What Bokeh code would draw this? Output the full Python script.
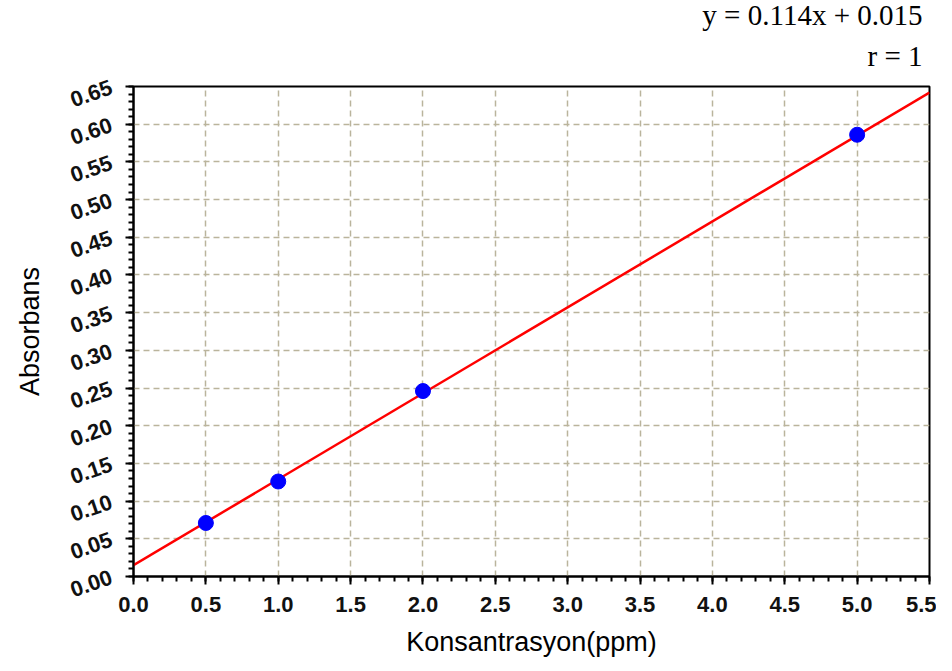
from bokeh.plotting import figure
from bokeh.models import Range1d, SingleIntervalTicker, NumeralTickFormatter, Title
from bokeh.embed import file_html
from bokeh.resources import INLINE

# data
conc = [0.5, 1.0, 2.0, 5.0]
absorb = [0.071, 0.126, 0.246, 0.586]
slope = 0.114
intercept = 0.015
fit_x = [0.0, 5.5]
fit_y = [slope * v + intercept for v in fit_x]
eq_text = "y = 0.114x + 0.015"
r_text = "r = 1"
x_label = "Konsantrasyon(ppm)"
y_label = "Absorbans"

p = figure(width=936, height=663, output_backend="svg", toolbar_location=None,
           x_range=Range1d(0, 5.5), y_range=Range1d(0, 0.65),
           min_border_left=133, min_border_right=7, min_border_top=86, min_border_bottom=87)
p.background_fill_color = "white"
p.border_fill_color = "white"
p.outline_line_color = "black"
p.outline_line_width = 2

p.xaxis.ticker = SingleIntervalTicker(interval=0.5, num_minor_ticks=5)
p.yaxis.ticker = SingleIntervalTicker(interval=0.05, num_minor_ticks=5)
p.xaxis.formatter = NumeralTickFormatter(format="0.0")
p.yaxis.formatter = NumeralTickFormatter(format="0.00")

for ax in (p.xaxis, p.yaxis):
    ax.axis_line_color = "black"
    ax.axis_line_width = 2
    ax.major_tick_line_color = "black"
    ax.major_tick_line_width = 2
    ax.minor_tick_line_color = "black"
    ax.minor_tick_line_width = 2
    ax.major_tick_out = 8
    ax.major_tick_in = 0
    ax.minor_tick_out = 5
    ax.minor_tick_in = 0
    ax.major_label_text_font = "Liberation Sans"
    ax.major_label_text_font_style = "bold"
    ax.major_label_text_font_size = "22px"
    ax.major_label_text_color = "#111111"
    ax.axis_label_text_font = "Liberation Sans"
    ax.axis_label_text_font_style = "normal"
    ax.axis_label_text_font_size = "27px"
    ax.axis_label_text_color = "black"

p.xaxis.axis_label = x_label
p.yaxis.axis_label = y_label
p.xaxis.major_label_standoff = 12
p.xaxis.axis_label_standoff = 12
p.yaxis.major_label_standoff = 14
p.yaxis.axis_label_standoff = 18
p.yaxis.major_label_orientation = 0.33

p.grid.grid_line_color = "#bab49c"
p.grid.grid_line_dash = "6 4"
p.grid.grid_line_width = 1.5

p.line(fit_x, fit_y, line_color="red", line_width=2.5)
p.scatter(conc, absorb, size=15, fill_color="blue", line_color="blue", marker="circle")

p.add_layout(Title(text=r_text, align="right", offset=7, standoff=29,
                   text_font="Liberation Serif", text_font_size="29px",
                   text_font_style="normal", text_color="black"), "above")
p.add_layout(Title(text=eq_text, align="right", offset=7, standoff=-14,
                   text_font="Liberation Serif", text_font_size="29px",
                   text_font_style="normal", text_color="black"), "above")

open("out.html", "w").write(file_html(p, INLINE))
